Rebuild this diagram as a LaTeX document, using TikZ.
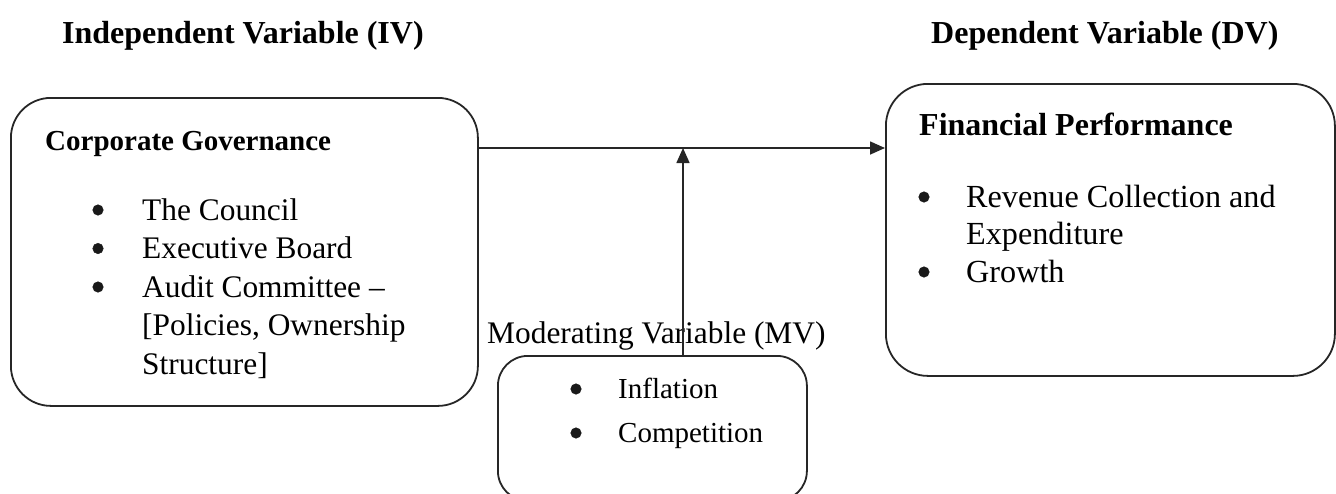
\documentclass[tikz,border=0pt]{standalone}
\usepackage{fontspec}
\setmainfont{Liberation Serif}
\usetikzlibrary{arrows.meta}
\begin{document}
\begin{tikzpicture}[x=1pt,y=-1pt,
  box/.style={draw=black!85, line width=1.8pt, inner sep=0pt, anchor=north west},
  hd/.style={anchor=base west, inner sep=0pt, font=\fontsize{32}{38}\selectfont\bfseries},
  bhd/.style={anchor=base west, inner sep=0pt, font=\fontsize{29}{35}\selectfont\bfseries},
  bhdr/.style={anchor=base west, inner sep=0pt, font=\fontsize{32}{38}\selectfont\bfseries},
  txt/.style={anchor=base west, inner sep=0pt, font=\fontsize{31.4}{38}\selectfont},
  txtr/.style={anchor=base west, inner sep=0pt, font=\fontsize{32.2}{38}\selectfont},
  txtm/.style={anchor=base west, inner sep=0pt, font=\fontsize{29}{35}\selectfont},
  dot/.style={circle, fill=black!90, draw=black!90, line width=0.5pt, inner sep=0pt, minimum size=10.5pt},
  conn/.style={draw=black!85, line width=1.6pt, -{Triangle[length=15pt,width=13pt]}}
]
\useasboundingbox (0,0) rectangle (1336,493);
\clip (0,0) rectangle (1336,493);

% headings
\node[hd] (hiv) at (62,43) {Independent Variable (IV)};
\node[hd] (hdv) at (931,43) {Dependent Variable (DV)};

% boxes
\node[box, rounded corners=40pt, minimum width=467pt, minimum height=308pt] (iv) at (10,97) {};
\node[box, rounded corners=42pt, minimum width=449pt, minimum height=292pt] (dv) at (885,83) {};
\node[box, rounded corners=30pt, minimum width=309pt, minimum height=145pt] (mv) at (497,355) {};

% left box content
\node[bhd] (cg) at (45,150) {Corporate Governance};
\node[dot] (b1) at (98,210) {};
\node[txt] (t1) at (142,220) {The Council};
\node[dot] (b2) at (98,248.5) {};
\node[txt] (t2) at (142,258.5) {Executive Board};
\node[dot] (b3) at (98,287) {};
\node[txt] (t3) at (142,297) {Audit Committee –};
\node[txt] (t4) at (142,335.5) {[Policies, Ownership};
\node[txt] (t5) at (142,374) {Structure]};

% right box content
\node[bhdr] (fp) at (919,135) {Financial Performance};
\node[dot] (r1) at (924,197) {};
\node[txtr] (s1) at (966,207) {Revenue Collection and};
\node[txtr] (s2) at (966,244.5) {Expenditure};
\node[dot] (r2) at (924,272) {};
\node[txtr] (s3) at (966,282) {Growth};

% moderating variable
\node[txt] (mvl) at (487,343) {Moderating Variable (MV)};
\node[dot] (m1) at (576,389) {};
\node[txtm] (u1) at (618,398) {Inflation};
\node[dot] (m2) at (576,433) {};
\node[txtm] (u2) at (618,442) {Competition};

% connectors
\coordinate (hy) at (0,148);
\coordinate (vx) at (683,0);
\draw[conn] (hy -| iv.east) -- (hy -| dv.west);
\draw[conn] (vx |- mv.north) -- (vx |- hy);
\end{tikzpicture}
\end{document}
